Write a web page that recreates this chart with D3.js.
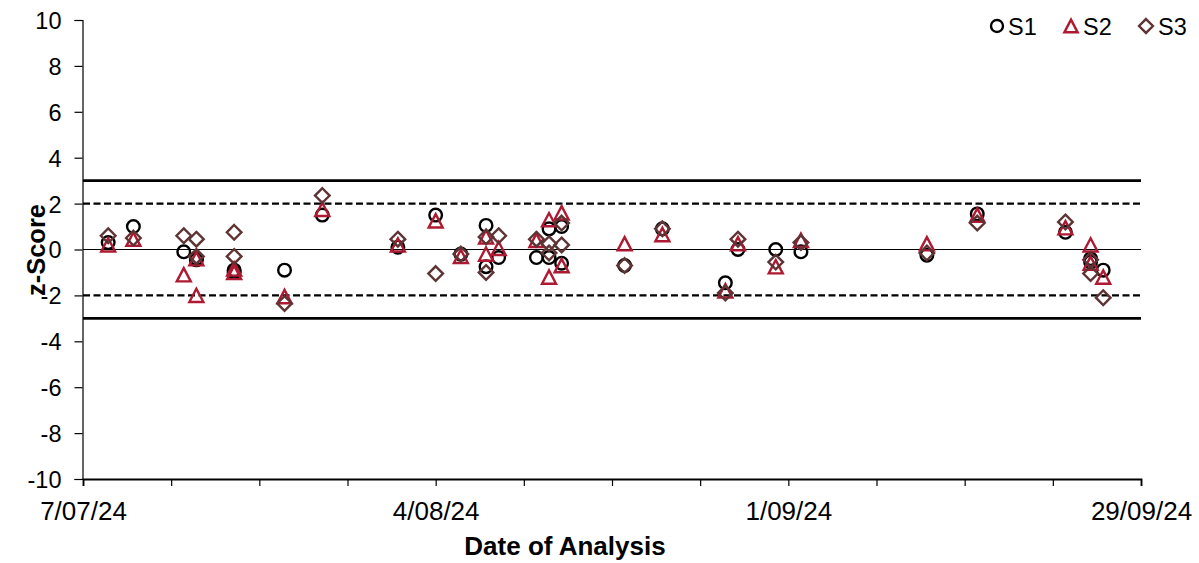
<!DOCTYPE html>
<html>
<head>
<meta charset="utf-8">
<script src="https://cdn.jsdelivr.net/npm/d3@7"></script>
<style>
  html, body { margin: 0; padding: 0; background: #fff; }
  svg { display: block; font-family: "Liberation Sans", Arial, sans-serif; }
</style>
</head>
<body>
<svg id="chart" width="1199" height="563"></svg>
<script>
// ---- Data ----
const dates = [
  "2024-07-09","2024-07-11","2024-07-15","2024-07-16","2024-07-16",
  "2024-07-19","2024-07-19","2024-07-23","2024-07-26","2024-08-01",
  "2024-08-04","2024-08-06","2024-08-08","2024-08-08","2024-08-09",
  "2024-08-12","2024-08-13","2024-08-13","2024-08-14","2024-08-14",
  "2024-08-19","2024-08-22","2024-08-27","2024-08-28","2024-08-31",
  "2024-09-02","2024-09-12","2024-09-16","2024-09-23","2024-09-25",
  "2024-09-25","2024-09-26"
];
const s1 = [0.3, 1.0, -0.1, -0.4, -0.45, -0.9, -1.0, -0.9, 1.5, 0.1,
            1.5, -0.2, 1.05, -0.75, -0.35, -0.35, 0.9, -0.35, 1.0, -0.6,
            -0.7, 0.9, -1.45, 0.0, 0.0, -0.1, -0.25, 1.55, 0.75, -0.4,
            -0.55, -0.9];
const s2 = [0.2, 0.45, -1.1, -0.4, -2.0, -0.85, -1.0, -2.05, 1.75, 0.2,
            1.25, -0.3, 0.55, -0.2, 0.05, 0.4, 1.3, -1.2, 1.6, -0.7,
            0.25, 0.65, -1.8, 0.25, -0.75, 0.4, 0.25, 1.5, 0.95, 0.2,
            -0.6, -1.2];
const s3 = [0.6, 0.5, 0.6, 0.45, -0.3, 0.75, -0.3, -2.35, 2.35, 0.45,
            -1.05, -0.2, 0.55, -1.0, 0.6, 0.45, 0.25, -0.15, 1.15, 0.2,
            -0.7, 0.9, -1.9, 0.45, -0.55, 0.3, -0.15, 1.15, 1.2, -0.45,
            -1.05, -2.1];
const seriesNames = ["S1", "S2", "S3"];
const limitLines = [3, 2, 0, -2, -3];
const yTicks = [-10, -8, -6, -4, -2, 0, 2, 4, 6, 8, 10];
const xLabelDates = ["2024-07-07", "2024-08-04", "2024-09-01", "2024-09-29"];
const xStart = "2024-07-07", xEnd = "2024-09-29";

(function () {
// ---- Setup ----
const parse = d3.utcParse("%Y-%m-%d");
const svg = d3.select("#chart");
const pLeft = 83, pRight = 1141, pTop = 20, pBottom = 479;

const x = d3.scaleUtc().domain([parse(xStart), parse(xEnd)]).range([pLeft, pRight]);
const y = d3.scaleLinear().domain([-10, 10]).range([pBottom, pTop]);

const colors = { S1: "#000000", S2: "#AE1A32", S3: "#5E3434" };

// Limit lines
const lineStyle = v => {
  if (Math.abs(v) === 3) return { w: 2.7, dash: null };
  if (Math.abs(v) === 2) return { w: 2.3, dash: "7,3.5" };
  return { w: 1.1, dash: null };
};
svg.append("g").selectAll("line").data(limitLines).join("line")
  .attr("x1", pLeft).attr("x2", pRight)
  .attr("y1", d => y(d)).attr("y2", d => y(d))
  .attr("stroke", "#000")
  .attr("stroke-width", d => lineStyle(d).w)
  .attr("stroke-dasharray", d => lineStyle(d).dash);

// Y axis
const yAxis = d3.axisLeft(y).tickValues(yTicks).tickSize(8).tickPadding(13)
  .tickFormat(d => String(d));
const gy = svg.append("g").attr("transform", `translate(${pLeft - 0.5},0)`).call(yAxis);
gy.select(".domain").attr("stroke", "#000").attr("stroke-width", 1.2);
gy.selectAll(".tick line").attr("stroke", "#000").attr("stroke-width", 1.2);
gy.selectAll(".tick text").attr("font-size", 23.5).attr("fill", "#000")
  .attr("font-family", "Liberation Sans, Arial, sans-serif").attr("dy", "0.36em");

// X axis: weekly ticks, labels every 4 weeks
const start = parse(xStart);
const nDays = Math.round((parse(xEnd) - start) / 864e5);
const xTickVals = d3.range(0, nDays + 1, 7).map(d => d3.utcDay.offset(start, d));
const fmt = d3.utcFormat("%-d/%m/%y");
const labelled = new Set(xLabelDates);
const keyFmt = d3.utcFormat("%Y-%m-%d");
const xAxis = d3.axisBottom(x).tickValues(xTickVals).tickSize(7).tickPadding(16)
  .tickFormat(d => labelled.has(keyFmt(d)) ? fmt(d) : "");
const gx = svg.append("g").attr("transform", `translate(0,${pBottom})`).call(xAxis);
gx.select(".domain").attr("stroke", "#000").attr("stroke-width", 1.8);
gx.selectAll(".tick line").attr("stroke", "#000").attr("stroke-width", 1.2);
gx.selectAll(".tick text").attr("font-size", 26).attr("fill", "#000")
  .attr("font-family", "Liberation Sans, Arial, sans-serif");

// Axis titles
svg.append("text").attr("x", 565).attr("y", 555)
  .attr("text-anchor", "middle").attr("font-weight", "bold").attr("font-size", 26)
  .text("Date of Analysis");
svg.append("text").attr("transform", `translate(45,250) rotate(-90)`)
  .attr("text-anchor", "middle").attr("font-weight", "bold").attr("font-size", 25.5)
  .text("z-Score");

// Marker paths
const triPath = (s) => `M0,${-s * 0.95}L${s},${s * 0.95}L${-s},${s * 0.95}Z`;
const diaPath = (s) => `M0,${-s}L${s},0L0,${s}L${-s},0Z`;

function drawMarker(g, name, scale) {
  const c = colors[name];
  if (name === "S1") {
    g.append("circle").attr("r", 6.3 * scale).attr("fill", "none")
      .attr("stroke", c).attr("stroke-width", 2.4);
  } else if (name === "S2") {
    g.append("path").attr("d", triPath(7.0 * scale)).attr("fill", "none")
      .attr("stroke", c).attr("stroke-width", 2.4).attr("stroke-linejoin", "miter");
  } else {
    g.append("path").attr("d", diaPath(7.3 * scale)).attr("fill", "none")
      .attr("stroke", c).attr("stroke-width", 2.4);
  }
}

// Points
const seriesVals = { S1: s1, S2: s2, S3: s3 };
seriesNames.forEach(name => {
  const g = svg.append("g");
  dates.forEach((ds, i) => {
    const m = g.append("g").attr("transform", `translate(${x(parse(ds))},${y(seriesVals[name][i])})`);
    drawMarker(m, name, 1);
  });
});

// Legend
const legendPos = [
  { name: "S1", mx: 997, tx: 1008 },
  { name: "S2", mx: 1071, tx: 1083 },
  { name: "S3", mx: 1146, tx: 1158 }
];
legendPos.forEach(l => {
  const m = svg.append("g").attr("transform", `translate(${l.mx},26)`);
  drawMarker(m, l.name, 0.95);
  svg.append("text").attr("x", l.tx).attr("y", 34.5).attr("font-size", 23.5)
    .attr("fill", "#000").text(l.name);
});
})();
</script>
</body>
</html>
